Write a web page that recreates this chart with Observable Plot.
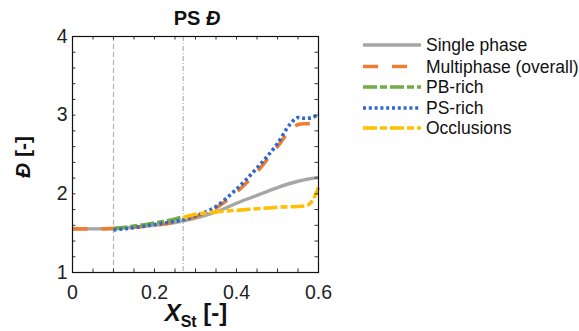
<!DOCTYPE html>
<html>
<head>
<meta charset="utf-8">
<script src="https://cdn.jsdelivr.net/npm/d3@7"></script>
<script src="https://cdn.jsdelivr.net/npm/@observablehq/plot@0.6"></script>
<style>
  body { margin: 0; background: #fff; }
  #chart { width: 579px; height: 331px; }
</style>
</head>
<body>
<div id="chart"></div>
<script>
// ---- data ----
const seriesNames = ["Single phase", "Multiphase (overall)", "PB-rich", "PS-rich", "Occlusions"];
const singleX = [0, 0.05, 0.1, 0.15, 0.2, 0.25, 0.3, 0.35, 0.4, 0.45, 0.5, 0.55, 0.6];
const singleY = [1.555, 1.555, 1.56, 1.575, 1.6, 1.635, 1.69, 1.77, 1.88, 1.98, 2.08, 2.16, 2.21];
const multiX = [0, 0.05, 0.1, 0.15, 0.2, 0.25, 0.27, 0.3, 0.35, 0.4, 0.45, 0.48, 0.5, 0.52, 0.54, 0.55, 0.565, 0.58];
const multiY = [1.555, 1.555, 1.56, 1.575, 1.6, 1.64, 1.66, 1.71, 1.82, 2.02, 2.28, 2.47, 2.6, 2.74, 2.85, 2.88, 2.89, 2.89];
const pbX = [0.1, 0.15, 0.2, 0.25, 0.27];
const pbY = [1.56, 1.59, 1.63, 1.68, 1.71];
const psX = [0.1, 0.15, 0.2, 0.25, 0.27, 0.3, 0.35, 0.4, 0.45, 0.5, 0.53, 0.55, 0.57, 0.585, 0.6];
const psY = [1.54, 1.57, 1.61, 1.65, 1.67, 1.72, 1.84, 2.06, 2.33, 2.64, 2.88, 2.97, 2.96, 2.97, 3.02];
const occX = [0.27, 0.3, 0.35, 0.4, 0.45, 0.5, 0.55, 0.57, 0.58, 0.59, 0.6];
const occY = [1.70, 1.74, 1.77, 1.79, 1.81, 1.83, 1.84, 1.85, 1.88, 1.96, 2.08];
const refLinesX = [0.1, 0.27];
const xTickLabels = [0, 0.2, 0.4, 0.6];
const yTickLabels = [1, 2, 3, 4];
const xMinorTicks = d3.range(0, 0.6001, 0.05);
const yMinorTicks = d3.range(1, 4.0001, 0.2);

// ---- styles ----
const styles = [
  {color: "#a6a6a6", dash: null, width: 3.4},
  {color: "#ed7d31", dash: "15,14", width: 3.6},
  {color: "#70ad47", dash: "14,3,7,3", width: 3.6},
  {color: "#3467cc", dash: "3,2.8", width: 3.6},
  {color: "#ffc000", dash: "14,3,7,3", width: 3.6}
];

const toPts = (xs, ys) => xs.map((x, i) => ({x, y: ys[i]}));
const series = [toPts(singleX, singleY), toPts(multiX, multiY), toPts(pbX, pbY), toPts(psX, psY), toPts(occX, occY)];

const W = 579, H = 331;
const mL = 72, mR = 261, mT = 36, mB = 59;
const font = "'Liberation Sans', Arial, sans-serif";

const lineMarks = series.map((d, i) => Plot.line(d, {
  x: "x", y: "y", stroke: styles[i].color, strokeWidth: styles[i].width,
  strokeDasharray: styles[i].dash, curve: "monotone-x", strokeLinecap: "butt"
}));

const plot = Plot.plot({
  width: W, height: H,
  marginLeft: mL, marginRight: mR, marginTop: mT, marginBottom: mB,
  x: {domain: [0, 0.6]},
  y: {domain: [1, 4]},
  style: {fontFamily: font, background: "white", fontSize: "19px"},
  marks: [
    Plot.ruleX([refLinesX[0]], {stroke: "#b3b3b3", strokeWidth: 1.2, strokeDasharray: "5,3"}),
    Plot.ruleX([refLinesX[1]], {stroke: "#b3b3b3", strokeWidth: 1.2, strokeDasharray: "5,2,1,2"}),
    ...lineMarks,
    // inward minor ticks on all four sides
    Plot.ruleX(xMinorTicks, {y1: 1, y2: 1.045, stroke: "#333", strokeWidth: 1}),
    Plot.ruleX(xMinorTicks, {y1: 3.955, y2: 4, stroke: "#333", strokeWidth: 1}),
    Plot.ruleY(yMinorTicks, {x1: 0, x2: 0.0085, stroke: "#333", strokeWidth: 1}),
    Plot.ruleY(yMinorTicks, {x1: 0.5915, x2: 0.6, stroke: "#333", strokeWidth: 1}),
    Plot.frame({stroke: "#111", strokeWidth: 1.2}),
    Plot.axisX(xTickLabels, {tickSize: 0, tickPadding: 13, fontSize: 19, label: null, tickFormat: d => String(d), fill: "#222"}),
    Plot.axisY(yTickLabels, {tickSize: 0, tickPadding: 5, fontSize: 19, label: null, tickFormat: d => String(d), fill: "#222"})
  ]
});

document.getElementById("chart").appendChild(plot);

const svg = d3.select(plot);
svg.selectAll('g[aria-label="x-axis tick label"] text, g[aria-label="y-axis tick label"] text')
  .style("font-size", "19.5px").style("font-family", font);

function txt(sel, size) {
  return sel.style("font-family", font).style("font-size", size + "px").style("fill", "#111");
}

// title
const title = txt(svg.append("text").attr("x", 197).attr("y", 25).style("text-anchor", "middle"), 20)
  .style("font-weight", "bold");
title.append("tspan").text("PS ");
title.append("tspan").style("font-style", "italic").text("Đ");

// y label
const yl = txt(svg.append("text").attr("transform", "translate(30,157) rotate(-90)").style("text-anchor", "middle"), 21)
  .style("font-weight", "bold");
yl.append("tspan").style("font-style", "italic").text("Đ");
yl.append("tspan").text(" [-]");

// x label
const xl = svg.append("text").attr("x", 196).attr("y", 321).style("text-anchor", "middle")
  .style("font-family", font).style("font-weight", "bold").style("fill", "#111");
xl.append("tspan").style("font-style", "italic").style("font-size", "24px").text("X");
xl.append("tspan").style("font-size", "16px").attr("dy", 6).text("St");
xl.append("tspan").style("font-size", "24px").attr("dy", -6).text(" [-]");

// legend
const lg = svg.append("g");
const legY = [45, 66.5, 87, 108, 128];
seriesNames.forEach((name, i) => {
  lg.append("line").attr("x1", 363).attr("x2", 421).attr("y1", legY[i]).attr("y2", legY[i])
    .attr("stroke", styles[i].color).attr("stroke-width", styles[i].width)
    .attr("stroke-dasharray", styles[i].dash);
  txt(lg.append("text").attr("x", 426).attr("y", legY[i]).attr("dy", "0.36em").style("text-anchor", "start"), 17.5)
    .text(name);
});
</script>
</body>
</html>
